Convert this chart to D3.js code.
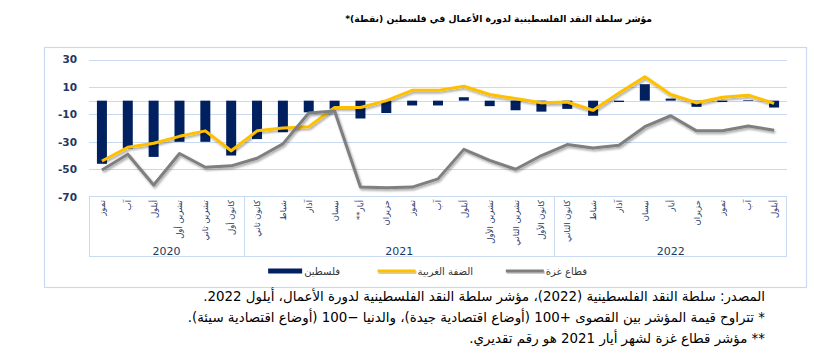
<!DOCTYPE html>
<html><head><meta charset="utf-8">
<script src="https://cdn.jsdelivr.net/npm/d3@7"></script>
<style>body{margin:0;background:#fff} svg{display:block}</style>
</head><body><svg id="c" width="840" height="350"></svg>
<script>
const months = ["تموز","آب","أيلول","تشرين أول","تشرين ثاني","كانون أول",
  "كانون ثاني","شباط","آذار","نيسان","أيار**","حزيران","تموز","آب","أيلول","تشرين الأول","تشرين الثاني","كانون الأول",
  "كانون الثاني","شباط","آذار","نيسان","أيار","حزيران","تموز","آب","أيلول"];
const yearLabels = ["2020","2021","2022"];
const yearSizes = [6,12,9];
const palestine = [-46,-35,-41,-30,-30,-40,-28,-23,-8.5,-6,-13,-9,-3.5,-3.5,2.5,-4,-7,-8,-6,-11,-1,12,1.5,-4.5,-1,0.5,-5];
const westBank  = [-44,-34,-31,-26,-22,-36.5,-22,-20,-19,-5,-5,0,7.5,7.5,10.5,4.5,1.5,-1.5,-1,-7,5.5,17.5,4.5,-1.5,2.5,4,-2];
const gaza      = [-50.5,-39,-61.5,-38.5,-48.5,-47.5,-42,-31.5,-9,-7.5,-63,-63.5,-63,-57,-35.5,-43.5,-50,-40,-32,-34.5,-32.5,-19,-11,-22,-22,-18.5,-21.5];
const yTicks = [30,10,-10,-30,-50,-70];
const titleText = "مؤشر سلطة النقد الفلسطينية لدورة الأعمال في فلسطين (نقطة)*";
const legendLabels = ["فلسطين","الضفة الغربية","قطاع غزة"];
const notes = [
  "المصدر: سلطة النقد الفلسطينية (2022)، مؤشر سلطة النقد الفلسطينية لدورة الأعمال، أيلول 2022.",
  "* تتراوح قيمة المؤشر بين القصوى +100 (أوضاع اقتصادية جيدة)، والدنيا −100 (أوضاع اقتصادية سيئة).",
  "** مؤشر قطاع غزة لشهر أيار 2021 هو رقم تقديري."
];

const NAVY="#002060", GOLD="#FFC000", GRAY="#7f7f7f", GRID="#c9daf0", TXT="#1f3864";
const FONT="DejaVu Sans";
const svg=d3.select("#c");
const defs=svg.append("defs");
defs.append("filter").attr("id","sh").attr("x","-10%").attr("y","-10%").attr("width","120%").attr("height","130%")
  .append("feDropShadow").attr("dx",1.2).attr("dy",1.8).attr("stdDeviation",0.9)
  .attr("flood-color","#000").attr("flood-opacity",0.35);

function fit(sel,w){const L=sel.node().getComputedTextLength();const fs=parseFloat(sel.attr("font-size"));sel.attr("font-size",fs*w/L);return fs*w/L;}

// title
const t=svg.append("text").attr("x",652).attr("y",22).attr("direction","rtl").attr("text-anchor","start")
  .attr("font-family",FONT).attr("font-weight","bold").attr("font-size",11).attr("fill","#000").text(titleText);
fit(t,307);

// frame
svg.append("rect").attr("x",44.5).attr("y",47.5).attr("width",762).attr("height",240)
  .attr("fill","none").attr("stroke",GRID).attr("stroke-width",1.2);

const idx=d3.range(months.length);
const x=d3.scaleBand().domain(idx).range([89,787]).padding(0);
const y=d3.scaleLinear().domain([-70,30]).range([196.7,59.5]);

// gridlines
svg.append("g").selectAll("line").data(yTicks.filter(v=>v>-70).concat([0])).join("line")
  .attr("x1",89).attr("x2",787).attr("y1",d=>Math.round(y(d))+0.5).attr("y2",d=>Math.round(y(d))+0.5)
  .attr("stroke",GRID).attr("stroke-width",1);

// y axis labels
const ya=d3.axisLeft(y).tickValues(yTicks).tickSize(0).tickPadding(0).tickFormat(d3.format("d"));
const yg=svg.append("g").attr("transform","translate(77,0)").call(ya);
yg.select(".domain").remove();
yg.selectAll("text").attr("font-family",FONT).attr("font-size",10.5).attr("fill",TXT).attr("font-weight","bold").text(d=>d<0?"-"+Math.abs(d):d);

// bars
svg.append("g").selectAll("rect").data(palestine).join("rect")
  .attr("x",(d,i)=>x(i)+x.bandwidth()/2-5).attr("width",10)
  .attr("y",d=>y(Math.max(0,d))).attr("height",d=>Math.abs(y(d)-y(0)))
  .attr("fill",NAVY);

// lines
const line=d3.line().x((d,i)=>x(i)+x.bandwidth()/2).y(d=>y(d));
svg.append("path").datum(westBank).attr("d",line).attr("fill","none").attr("stroke",GOLD).attr("stroke-width",3).attr("stroke-linejoin","round").attr("filter","url(#sh)");
svg.append("path").datum(gaza).attr("d",line).attr("fill","none").attr("stroke",GRAY).attr("stroke-width",3).attr("stroke-linejoin","round").attr("filter","url(#sh)");

// category box
const cat=svg.append("g");
cat.append("rect").attr("x",89.5).attr("y",196.5).attr("width",697).attr("height",60).attr("fill","none").attr("stroke",GRID);
let acc=0;
yearSizes.forEach((n,k)=>{
  const x0=x(acc), x1=x(acc+n-1)+x.bandwidth();
  if(k>0) cat.append("line").attr("x1",Math.round(x0)+0.5).attr("x2",Math.round(x0)+0.5).attr("y1",196.5).attr("y2",256.5).attr("stroke",GRID);
  cat.append("text").attr("x",(x0+x1)/2).attr("y",255).attr("text-anchor","middle")
    .attr("font-family",FONT).attr("font-size",11).attr("fill",TXT).text(yearLabels[k]);
  acc+=n;
});
cat.selectAll("text.m").data(months).join("text").attr("class","m")
  .attr("transform",(d,i)=>`translate(${x(i)+x.bandwidth()/2+3},200) rotate(-90)`)
  .attr("direction","rtl").attr("text-anchor","start")
  .attr("font-family",FONT).attr("font-size",8.5).attr("fill",TXT).text(d=>d);

// legend
const lg=svg.append("g").attr("font-family",FONT).attr("font-size",10).attr("fill","#333");
const legItems=[{x:340,type:"rect",c:NAVY},{x:473,type:"line",c:GOLD},{x:587,type:"line",c:GRAY}];
legItems.forEach((it,k)=>{
  const tx=lg.append("text").attr("x",it.x).attr("y",275).attr("direction","rtl").attr("text-anchor","start").text(legendLabels[k]);
  const w=tx.node().getComputedTextLength();
  const sx=it.x-w-2;
  if(it.type==="rect") lg.append("rect").attr("x",sx-34).attr("y",268.5).attr("width",34).attr("height",5).attr("fill",it.c);
  else {
    lg.append("line").attr("x1",sx-38+1).attr("x2",sx+1).attr("y1",272.5).attr("y2",272.5).attr("stroke","#000").attr("stroke-opacity",0.2).attr("stroke-width",3);
    lg.append("line").attr("x1",sx-38).attr("x2",sx).attr("y1",271).attr("y2",271).attr("stroke",it.c).attr("stroke-width",3);
  }
});

// notes
const ny=[301,322,343];
let fs=null;
notes.forEach((s,k)=>{
  const n=svg.append("text").attr("x",765).attr("y",ny[k]).attr("direction","rtl").attr("text-anchor","start")
    .attr("font-family",FONT).attr("font-size",11).attr("fill","#000").text(s);
  if(k===0) fs=fit(n,562); else n.attr("font-size",fs);
});
</script></body></html>
